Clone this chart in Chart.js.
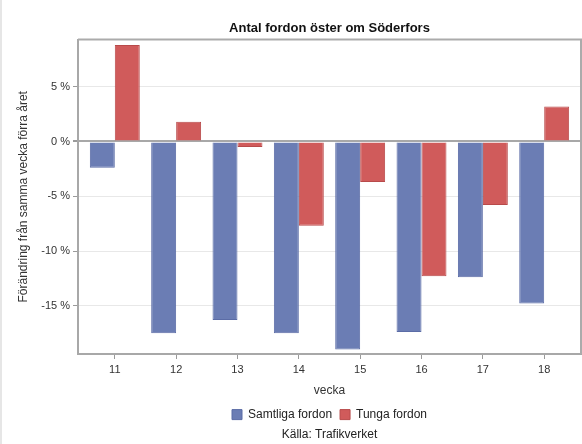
<!DOCTYPE html>
<html>
<head>
<meta charset="utf-8">
<script src="https://cdn.jsdelivr.net/npm/chart.js@4"></script>
<style>
  html, body { margin: 0; padding: 0; background: #fff; }
  #ram { width: 580px; height: 444px; border-left: 2px solid #e6e6e6; }
</style>
</head>
<body>
<div id="ram"><canvas id="diagram" width="580" height="444"></canvas></div>
<script>
// veckor och förändring i procent jämfört med samma vecka förra året
var veckor = [11, 12, 13, 14, 15, 16, 17, 18];
var samtliga = [-2.4, -17.5, -16.3, -17.5, -19.0, -17.4, -12.4, -14.8];
var tunga = [8.8, 1.8, -0.5, -7.7, -3.7, -12.3, -5.8, 3.2];
var yTicks = [-15, -10, -5, 0, 5];

var font = 'Arial, "Liberation Sans", sans-serif';

function punkter(serie) {
    return veckor.map(function(v, i) {
        return { x: v, y: serie[i] };
    });
}

// ram runt ritytan (topp och höger)
var ramPlugin = {
    id: 'ram',
    afterDraw: function(chart) {
        var a = chart.chartArea;
        var c = chart.ctx;
        c.save();
        c.strokeStyle = '#ababab';
        c.lineWidth = 2;
        c.beginPath();
        c.moveTo(a.left, a.top);
        c.lineTo(a.right, a.top);
        c.lineTo(a.right, a.bottom);
        c.stroke();
        c.restore();
    }
};

var ctx = document.getElementById('diagram').getContext('2d');
var chart = new Chart(ctx, {
    type: 'bar',
    data: {
        datasets: [{
            label: 'Samtliga fordon',
            data: punkter(samtliga),
            backgroundColor: '#6b7db4',
            borderColor: '#5b6ca6',
            borderWidth: 1
        }, {
            label: 'Tunga fordon',
            data: punkter(tunga),
            backgroundColor: '#d05b5b',
            borderColor: '#b84a4a',
            borderWidth: 1
        }]
    },
    options: {
        responsive: false,
        animation: false,
        datasets: {
            bar: {
                categoryPercentage: 0.814,
                barPercentage: 1.0
            }
        },
        layout: {
            padding: { left: 14, right: 1, top: 19, bottom: 0 }
        },
        scales: {
            x: {
                type: 'linear',
                min: 10.4,
                max: 18.6,
                offset: false,
                afterBuildTicks: function(scale) {
                    scale.ticks = veckor.map(function(v) { return { value: v }; });
                },
                ticks: {
                    color: '#333',
                    font: { family: font, size: 11 },
                    padding: 4,
                    maxRotation: 0
                },
                grid: {
                    display: true,
                    offset: false,
                    drawOnChartArea: false,
                    drawTicks: true,
                    tickLength: 5,
                    color: '#9a9a9a'
                },
                border: { color: '#a8a8a8', width: 2 },
                title: {
                    display: true,
                    text: 'vecka',
                    color: '#333',
                    font: { family: font, size: 12 },
                    padding: { top: 3, bottom: 3 }
                }
            },
            y: {
                min: -19.4,
                max: 9.3,
                afterBuildTicks: function(scale) {
                    scale.ticks = yTicks.map(function(v) { return { value: v }; });
                },
                afterFit: function(scale) {
                    scale.width = 62;
                },
                ticks: {
                    color: '#333',
                    font: { family: font, size: 11 },
                    padding: 3,
                    callback: function(value) {
                        return value + ' %';
                    }
                },
                grid: {
                    color: function(c) {
                        return c.tick && c.tick.value === 0 ? '#a8a8a8' : '#e8e8e8';
                    },
                    lineWidth: function(c) {
                        return c.tick && c.tick.value === 0 ? 2 : 1;
                    },
                    tickColor: '#9a9a9a',
                    tickLength: 5
                },
                border: { color: '#a8a8a8', width: 2 },
                title: {
                    display: true,
                    text: 'Förändring från samma vecka förra året',
                    color: '#333',
                    font: { family: font, size: 12 },
                    padding: { top: 0, bottom: 4 }
                }
            }
        },
        plugins: {
            title: {
                display: true,
                fullSize: false,
                text: 'Antal fordon öster om Söderfors',
                color: '#111',
                font: { family: font, size: 13, weight: 'bold' },
                padding: { top: 2, bottom: 3 }
            },
            subtitle: {
                display: true,
                position: 'bottom',
                fullSize: false,
                text: 'Källa: Trafikverket',
                color: '#222',
                font: { family: font, size: 12 },
                padding: { top: -3, bottom: 2 }
            },
            legend: {
                position: 'bottom',
                fullSize: false,
                labels: {
                    boxWidth: 10,
                    boxHeight: 10,
                    color: '#222',
                    font: { family: font, size: 12 },
                    padding: 8
                }
            },
            tooltip: { enabled: false }
        }
    },
    plugins: [ramPlugin]
});
</script>
</body>
</html>
